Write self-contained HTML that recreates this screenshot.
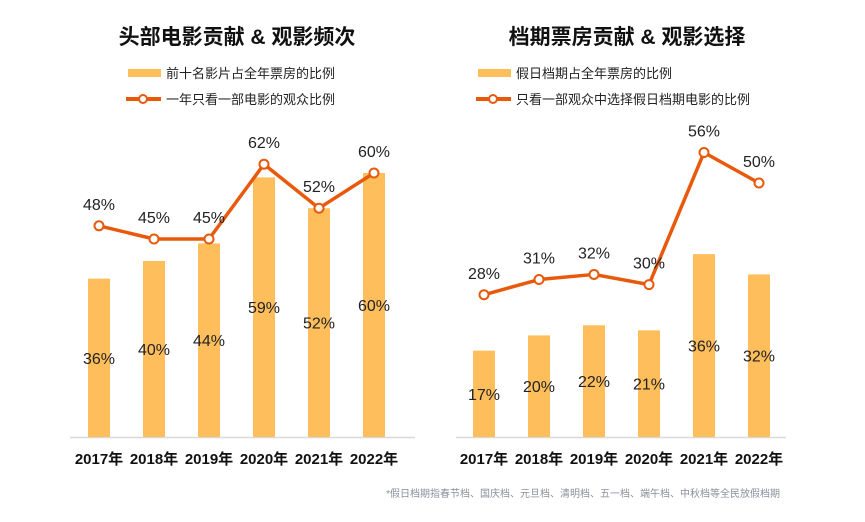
<!DOCTYPE html>
<html><head><meta charset="utf-8">
<style>
body{margin:0;background:#fff;}
svg{display:block;font-family:"Liberation Sans","Noto Sans CJK SC",sans-serif;}
</style></head>
<body>
<svg id="c" width="865" height="522">
<text x="237" y="44" text-anchor="middle" font-size="21" font-weight="bold" fill="#111">头部电影贡献 &amp; 观影频次</text>
<text x="627" y="44" text-anchor="middle" font-size="21" font-weight="bold" fill="#111">档期票房贡献 &amp; 观影选择</text>
<g>
<rect x="128" y="69" width="33" height="8" fill="#FFBE5C"/>
<text x="166" y="78" font-size="13" fill="#222">前十名影片占全年票房的比例</text>
<line x1="126" y1="99" x2="161" y2="99" stroke="#E8590C" stroke-width="4"/>
<circle cx="143" cy="99" r="4" fill="#fff" stroke="#E8590C" stroke-width="2"/>
<text x="166" y="104" font-size="13" fill="#222">一年只看一部电影的观众比例</text>
</g>
<g>
<rect x="478" y="69" width="33" height="8" fill="#FFBE5C"/>
<text x="516" y="78" font-size="13" fill="#222">假日档期占全年票房的比例</text>
<line x1="476" y1="99" x2="511" y2="99" stroke="#E8590C" stroke-width="4"/>
<circle cx="493" cy="99" r="4" fill="#fff" stroke="#E8590C" stroke-width="2"/>
<text x="516" y="104" font-size="13" fill="#222">只看一部观众中选择假日档期电影的比例</text>
</g>
<text x="780" y="497" text-anchor="end" font-size="10" fill="#8a8f9a">*假日档期指春节档、国庆档、元旦档、清明档、五一档、端午档、中秋档等全民放假档期</text>
</svg>
<script>
const categories=["2017年","2018年","2019年","2020年","2021年","2022年"];
const leftBars=[36,40,44,59,52,60];
const leftLine=[48,45,45,62,52,60];
const rightBars=[17,20,22,21,36,32];
const rightLine=[28,31,32,30,56,50];
const NS="http://www.w3.org/2000/svg";
const svg=document.getElementById('c');
function mk(t,a){const e=document.createElementNS(NS,t);for(const k in a)e.setAttribute(k,a[k]);svg.appendChild(e);return e;}
function draw(side,x0,step,axL,axR,scale,bars,line){
  const base=437;
  const xs=i=>x0+i*step;
  const ys=v=>base-v*scale;
  const ax=mk('line',{x1:axL,y1:base+0.5,x2:axR,y2:base+0.5,stroke:'#d9d9d9','stroke-width':1.5});
  
  
  bars.forEach((v,i)=>{
    const r=mk('rect',{x:xs(i)-11,y:ys(v),width:22,height:base-ys(v),fill:'#FFBE5C'});
    
    
    const t=mk('text',{x:xs(i),y:(ys(v)+base)/2+6,'text-anchor':'middle','font-size':16,fill:'#222'});
    t.textContent=v+'%';
    
    
  });
  const pts=line.map((v,i)=>xs(i)+','+ys(v)).join(' ');
  const pl=mk('polyline',{points:pts,fill:'none',stroke:'#E8590C','stroke-width':3.5,'stroke-linejoin':'round'});
  
  
  line.forEach((v,i)=>{
    const c=mk('circle',{cx:xs(i),cy:ys(v),r:4.5,fill:'#fff',stroke:'#E8590C','stroke-width':2});
    
    
    const t=mk('text',{x:xs(i),y:ys(v)-16,'text-anchor':'middle','font-size':16,fill:'#222'});
    t.textContent=v+'%';
    
    
  });
  categories.forEach((c,i)=>{
    const t=mk('text',{x:xs(i),y:464,'text-anchor':'middle','font-size':15,'font-weight':'bold',fill:'#111'});
    t.textContent=c;
    
    
  });
}
draw('left',99,55,70,415,4.4,leftBars,leftLine);
draw('right',484,55,456,786,5.08,rightBars,rightLine);
</script>
</body></html>
